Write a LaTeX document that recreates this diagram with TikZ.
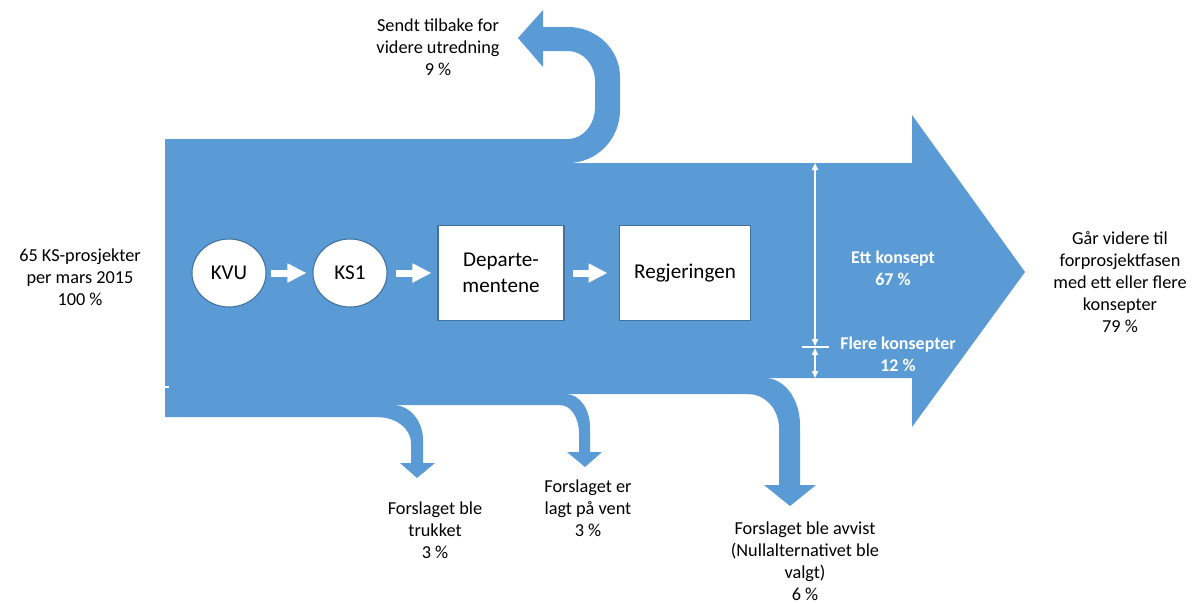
\documentclass[tikz,border=0pt]{standalone}
\usepackage{fontspec}
\setmainfont{Carlito}
\usetikzlibrary{shapes.geometric,arrows.meta}
\definecolor{flowblue}{HTML}{5B9BD5}
\definecolor{edgeblue}{HTML}{41719C}
\begin{document}
\begin{tikzpicture}[x=0.02cm,y=-0.02cm,
                    font=\fontsize{10.4}{12.6}\selectfont,
                    phase node/.style={ellipse,fill=white,draw=edgeblue,line width=0.6pt,minimum width=1.48cm,minimum height=1.36cm,inner sep=0pt,font=\fontsize{12}{15}\selectfont},
                    body node/.style={rectangle,fill=white,draw=edgeblue,line width=0.6pt,minimum height=1.9cm,inner sep=0pt,align=center,font=\fontsize{12}{15}\selectfont},
                    label node/.style={align=center,inner sep=0pt},
                    share node/.style={align=center,inner sep=0pt,text=white,font=\fontsize{10.2}{12.6}\selectfont\bfseries},
                    block arrow/.style={white,line width=0.14cm,-{Triangle[length=0.38cm,width=0.36cm]}},
                    dim arrow/.style={white,line width=0.9pt,{Triangle[length=0.14cm,width=0.12cm]}-{Triangle[length=0.14cm,width=0.12cm]}}]
             \useasboundingbox (0,0) rectangle (1195,603);
             % main band and big head
             \fill[flowblue] (165,139) -- (570,139) -- (570,163) -- (912,163) -- (912,115) -- (1025,272) -- (912,427) -- (912,378)
                  -- (767,378) -- (767,394) -- (568,394) -- (568,405) -- (395,405) -- (395,417) -- (165,417) -- cycle;
             % sent back
             \fill[flowblue] (568,163) arc[start angle=90,end angle=0,x radius=52,y radius=53]
                  -- (620,77) arc[start angle=0,end angle=-90,x radius=52,y radius=50]
                  -- (543,27) -- (543,10) -- (518,38) -- (543,67) -- (543,51) -- (568,51)
                  arc[start angle=-90,end angle=0,x radius=27,y radius=30]
                  -- (595,107) arc[start angle=0,end angle=90,x radius=27,y radius=32] -- cycle;
             % withdrawn
             \fill[flowblue] (393,405) arc[start angle=-90,end angle=0,x radius=30,y radius=35]
                  -- (423,463) -- (435,463) -- (417,478) -- (400,463) -- (411,463) -- (411,443)
                  arc[start angle=0,end angle=-90,x radius=34,y radius=26] -- cycle;
             % on hold
             \fill[flowblue] (566,394) arc[start angle=-90,end angle=0,x radius=24,y radius=33]
                  -- (590,452) -- (602,452) -- (585,467) -- (567,452) -- (579,452) -- (579,433)
                  arc[start angle=0,end angle=-90,x radius=19,y radius=28] -- cycle;
             % rejected
             \fill[flowblue] (765,378) arc[start angle=-90,end angle=0,x radius=35,y radius=47]
                  -- (800,485) -- (816,485) -- (790,506) -- (764,485) -- (779,485) -- (779,428)
                  arc[start angle=0,end angle=-90,x radius=31,y radius=34] -- cycle;

             \node[phase node] (kvu) at (229,273) {KVU};
             \node[phase node] (ks1) at (350,273) {KS1};
             \node[body node,minimum width=2.52cm] (dep) at (501,273) {Departe-\\mentene};
             \node[body node,minimum width=2.62cm] (reg) at (685,273) {Regjeringen};
             \draw[block arrow,shorten <=0.08cm,shorten >=0.12cm] (kvu) -- (ks1);
             \draw[block arrow,shorten <=0.16cm,shorten >=0.12cm] (ks1) -- (dep);
             \draw[block arrow,shorten <=0.16cm,shorten >=0.23cm] (dep) -- (reg);

             \coordinate (ettTop) at (815,163);
             \coordinate (ettBot) at (815,346);
             \coordinate (flereTop) at (815,348);
             \coordinate (flereBot) at (815,378);
             \coordinate (tickL) at (802,347);
             \coordinate (tickR) at (829,347);
             \coordinate (stubL) at (163,387);
             \coordinate (stubR) at (169,387);
             \draw[dim arrow] (ettTop) -- (ettBot);
             \draw[dim arrow] (flereTop) -- (flereBot);
             \draw[white,line width=1.6pt] (tickL) -- (tickR);
             \draw[white,line width=1.4pt] (stubL) -- (stubR);

             \node[share node] (ett) at (893,268) {Ett konsept\\67 \%};
             \node[share node] (flere) at (898,354) {Flere konsepter\\12 \%};
             \node[label node] (tilbake) at (438,47) {Sendt tilbake for\\videre utredning\\9 \%};
             \node[label node] (start) at (80,277) {65 KS-prosjekter\\per mars 2015\\100 \%};
             \node[label node] (videre) at (1120,282) {Går videre til\\forprosjektfasen\\med ett eller flere\\konsepter\\79 \%};
             \node[label node] (trukket) at (435,530) {Forslaget ble\\trukket\\3 \%};
             \node[label node] (vent) at (588,508) {Forslaget er\\lagt på vent\\3 \%};
             \node[label node] (avvist) at (805,561) {Forslaget ble avvist\\(Nullalternativet ble\\valgt)\\6 \%};
         \end{tikzpicture}
\end{document}
